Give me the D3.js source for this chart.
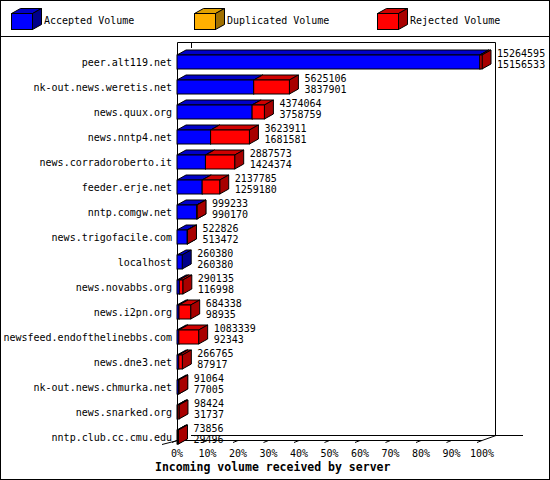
<!DOCTYPE html>
<html><head><meta charset="utf-8">
<script src="https://cdn.jsdelivr.net/npm/d3@7"></script>
<style>body{margin:0;background:#fff}text{font-family:"DejaVu Sans Mono",monospace;font-size:10px}</style>
</head><body><svg id="c" width="550" height="480"></svg>
<script>
const hosts = ['peer.alt119.net','nk-out.news.weretis.net','news.quux.org','news.nntp4.net','news.corradoroberto.it','feeder.erje.net','nntp.comgw.net','news.trigofacile.com','localhost','news.novabbs.org','news.i2pn.org','newsfeed.endofthelinebbs.com','news.dne3.net','nk-out.news.chmurka.net','news.snarked.org','nntp.club.cc.cmu.edu']
const totals = [15264595,5625106,4374064,3623911,2887573,2137785,999233,522826,260380,290135,684338,1083339,266765,91064,98424,73856]
const accepted = [15156533,3837901,3758759,1681581,1424374,1259180,990170,513472,260380,116998,98935,92343,87917,77005,31737,29496]
const ticks = [0,10,20,30,40,50,60,70,80,90,100]
const series = [
  {name:'Accepted Volume',front:'#0000ff',top:'#0000c8',side:'#00008a'},
  {name:'Duplicated Volume',front:'#ffb000',top:'#e0a000',side:'#a07000'},
  {name:'Rejected Volume',front:'#ff0000',top:'#d00000',side:'#a80000'}
]
const svg = d3.select('#c')
const dx = 14, dy = -5, bdx = 9, bdy = -5
svg.append('rect').attr('x',0.5).attr('y',0.5).attr('width',549).attr('height',479).attr('fill','#fff').attr('stroke','#000')
svg.append('line').attr('x1',0).attr('x2',550).attr('y1',36.5).attr('y2',36.5).attr('stroke','#000')

function box(g,x,y,w,h,c){
  g.append('path').attr('d',`M${x},${y}L${x+bdx},${y+bdy}L${x+w+bdx},${y+bdy}L${x+w},${y}Z`).attr('fill',c.top).attr('stroke','#000')
  g.append('path').attr('d',`M${x+w},${y}L${x+w+bdx},${y+bdy}L${x+w+bdx},${y+h+bdy}L${x+w},${y+h}Z`).attr('fill',c.side).attr('stroke','#000')
  g.append('rect').attr('x',x).attr('y',y).attr('width',w).attr('height',h).attr('fill',c.front).attr('stroke','#000')
}
// legend
const lg = svg.append('g')
series.forEach((s,i)=>{
  const x = 11+i*183
  box(lg,x+0.5,13.5,21,16,{front:s.front,top:s.top,side:s.side})
  lg.append('text').attr('x',44).attr('x',x+33).attr('y',24).text(s.name)
})

const x = d3.scaleLinear().domain([0,100]).range([177,482])
const y = d3.scaleBand().domain(hosts).range([47,447])
const max = d3.max(totals)
// frame
const fr = svg.append('g').attr('stroke','#000').attr('fill','none')
fr.append('path').attr('d',`M177.5,42.5H495.5V435.5`)
fr.append('path').attr('d',`M191.5,42.5V48`)
fr.append('path').attr('d',`M191,435.5H523`)
fr.append('path').attr('d',`M177.5,42.5V440.5H482L496,435.5`)
fr.append('path').attr('d',`M162,444.5L177.5,440.5`)
ticks.forEach(t=>{
  fr.append('path').attr('d',`M${x(t)},440.5L${x(t)-5},442.5`)
  svg.append('text').attr('x',x(t)).attr('y',457).attr('text-anchor','middle').text(t+'%')
})
// bars
const bg = svg.append('g')
hosts.forEach((h,i)=>{
  const cy = y(h)+y.bandwidth()/2
  const y0 = cy-4.5, bh = 14
  const a = accepted[i]/max*100, r = (totals[i]-accepted[i])/max*100
  box(bg,x(0),y0,x(a)-x(0),bh,series[0])
  if (r>0) box(bg,x(a),y0,x(a+r)-x(a),bh,series[2])
  svg.append('text').attr('x',172).attr('y',cy+6).attr('text-anchor','end').text(h)
  const lx = x(a+r)+bdx+6
  svg.append('text').attr('x',lx).attr('y',cy-3).text(totals[i])
  svg.append('text').attr('x',lx).attr('y',cy+8).text(accepted[i])
})
svg.append('text').attr('x',155).attr('y',471).style('font-weight','bold').style('font-size','11.5px').text('Incoming volume received by server')
</script></body></html>
